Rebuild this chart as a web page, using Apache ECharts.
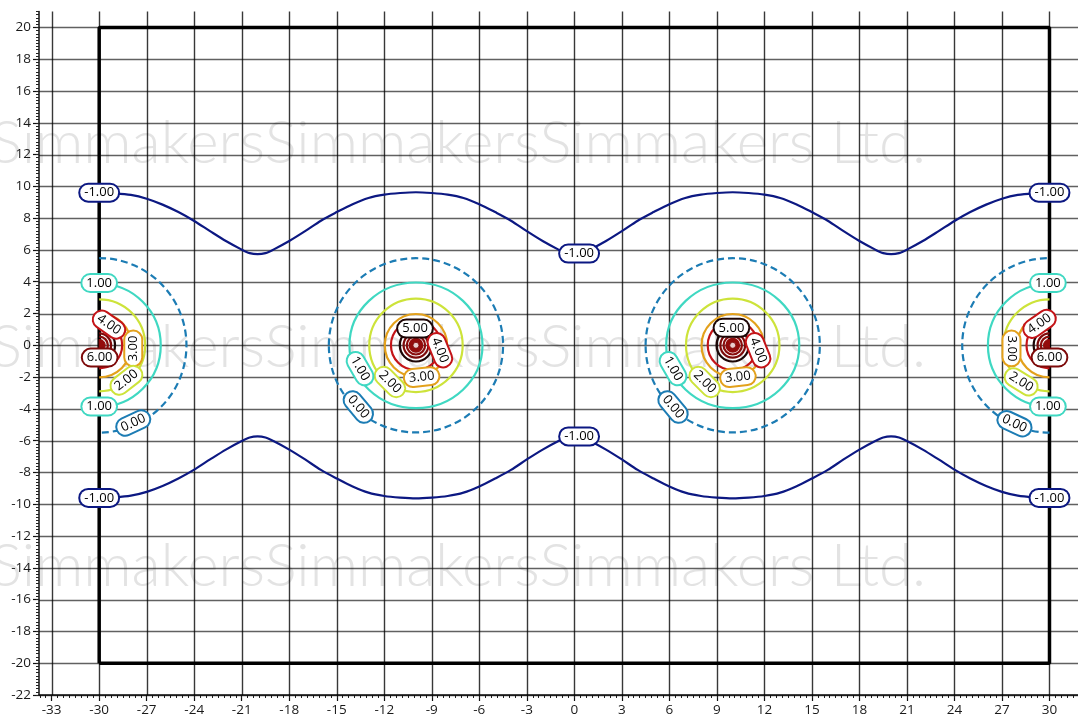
<!DOCTYPE html>
<html>
<head>
<meta charset="utf-8">
<script src="https://cdn.jsdelivr.net/npm/echarts@6/dist/echarts.min.js"></script>
<style>
html,body{margin:0;padding:0;background:#fff;}
#chart{width:1078px;height:722px;}
</style>
</head>
<body>
<div id="chart"></div>
<script>
// ---------- data ----------
const xTickValues = [-33,-30,-27,-24,-21,-18,-15,-12,-9,-6,-3,0,3,6,9,12,15,18,21,24,27,30];
const yTickValues = [-22,-20,-18,-16,-14,-12,-10,-8,-6,-4,-2,0,2,4,6,8,10,12,14,16,18,20];

// domain box
const boxX = [-30, 30, 30, -30, -30];
const boxY = [-20, -20, 20, 20, -20];

// contour -1.00 (upper and lower branches)
const m1X = [-30,-29,-28,-27,-26,-25,-24,-23,-22,-21,-20.5,-20,-19.5,-19,-18,-17,-16,-15,-14,-13,-12,-11,-10,-9,-8,-7,-6,-5,-4,-3,-2,-1,-0.5,0,0.5,1,2,3,4,5,6,7,8,9,10,11,12,13,14,15,16,17,18,19,19.5,20,20.5,21,22,23,24,25,26,27,28,29,30];
const m1Upper = [9.6,9.56,9.46,9.22,8.85,8.38,7.82,7.18,6.56,6.02,5.8,5.73,5.8,6.02,6.56,7.18,7.84,8.38,8.88,9.27,9.48,9.58,9.63,9.58,9.48,9.27,8.88,8.38,7.84,7.18,6.56,6.02,5.8,5.73,5.8,6.02,6.56,7.18,7.84,8.38,8.88,9.27,9.48,9.58,9.63,9.58,9.48,9.27,8.88,8.38,7.84,7.18,6.56,6.02,5.8,5.73,5.8,6.02,6.56,7.18,7.82,8.38,8.85,9.22,9.46,9.56,9.6];
const m1Lower = [-9.6,-9.56,-9.46,-9.22,-8.85,-8.38,-7.82,-7.18,-6.56,-6.02,-5.8,-5.73,-5.8,-6.02,-6.56,-7.18,-7.84,-8.38,-8.88,-9.27,-9.48,-9.58,-9.63,-9.58,-9.48,-9.27,-8.88,-8.38,-7.84,-7.18,-6.56,-6.02,-5.8,-5.73,-5.8,-6.02,-6.56,-7.18,-7.84,-8.38,-8.88,-9.27,-9.48,-9.58,-9.63,-9.58,-9.48,-9.27,-8.88,-8.38,-7.84,-7.18,-6.56,-6.02,-5.8,-5.73,-5.8,-6.02,-6.56,-7.18,-7.82,-8.38,-8.85,-9.22,-9.46,-9.56,-9.6];

// closed contours around the sources
const sourceX = [-10, 10];          // interior sources (full rings)
const edgeSourceX = [-30, 30];      // sources on the box edge (half rings)
const ringLevels = [0, 1, 2, 3, 4, 5, 6, 7, 8];
const centerRx = [5.5, 4.2, 2.95, 1.97, 1.58, 1.02, 0.78, 0.58, 0.4];
const centerRy = [5.48, 3.95, 2.94, 1.97, 1.56, 1.02, 0.78, 0.58, 0.4];
const edgeR    = [5.5, 3.88, 2.9, 2.02, 1.45, 1.0, 0.75, 0.55, 0.38];

// contour labels
const labelX    = [-30, 30, 0.3, 0.3, -30, 30,
                   -30, -30, -29.38, -27.85, -29.97, -28.28, -27.85,
                   29.9, 29.9, 29.37, 27.6, 30.0, 28.21, 27.79,
                   -10.06, -8.49, -9.64, -11.64, -13.53, -13.64,
                   9.92, 11.6, 10.33, 8.23, 6.23, 6.23];
const labelY    = [9.6, 9.6, 5.77, -5.73, -9.6, -9.6,
                   3.92, -3.85, 1.3, -0.2, -0.77, -2.2, -4.89,
                   3.92, -3.85, 1.35, -0.2, -0.77, -2.3, -4.93,
                   1.05, -0.31, -2.0, -2.31, -1.47, -3.88,
                   1.1, -0.31, -2.0, -2.31, -1.47, -3.88];
const labelText = ['-1.00','-1.00','-1.00','-1.00','-1.00','-1.00',
                   '1.00','1.00','4.00','3.00','6.00','2.00','0.00',
                   '1.00','1.00','4.00','3.00','6.00','2.00','0.00',
                   '5.00','4.00','3.00','2.00','1.00','0.00',
                   '5.00','4.00','3.00','2.00','1.00','0.00'];
const labelRot  = [0,0,0,0,0,0,
                   0,0,-35,90,0,38,25,
                   0,0,35,-90,0,-32,-25,
                   0,-68,6,-45,-60,-50,
                   0,-68,6,-45,-60,-50];

const watermarkText = 'SimmakersSimmakersSimmakers Ltd.';

// ---------- styling helpers ----------
const levelColor = {
  '-1': '#0c1882', '0': '#1c7cb4', '1': '#3fd8c2', '2': '#cde33a',
  '3': '#e3a11c', '4': '#c41418', '5': '#1c0606', '6': '#7d0a0a',
  '7': '#8a0c0c', '8': '#930c0c'
};
const xMinor = [], yMinor = [];
for (let k = 0; k <= 175; k++) { const v = -33.75 + k * 0.375; if (v <= 31.8) xMinor.push(+v.toFixed(3)); }
for (let k = 0; k <= 215; k++) { const v = -22 + k * 0.2; if (v <= 21.001) yMinor.push(+v.toFixed(2)); }

const X_MIN = -33.8, X_MAX = 31.8, Y_MIN = -22, Y_MAX = 21;
const FONT = "'Open Sans', 'DejaVu Sans', sans-serif";
const WM_FONT = "300 60px Lato, 'Open Sans', sans-serif";

const gridData = xTickValues.map(v => [v, 0, 0]).concat(yTickValues.map(v => [0, v, 1]));

const ringData = [];
sourceX.forEach(s => ringLevels.forEach((lv, i) => ringData.push([s, 0, centerRx[i], centerRy[i], lv, 0])));
edgeSourceX.forEach(s => ringLevels.forEach((lv, i) => ringData.push([s, 0, edgeR[i], edgeR[i], lv, s < 0 ? 1 : -1])));

const chart = echarts.init(document.getElementById('chart'), null, {renderer: 'canvas'});

const baseX = {type: 'value', min: X_MIN, max: X_MAX, position: 'bottom', splitLine: {show: false}};
const baseY = {type: 'value', min: Y_MIN, max: Y_MAX, position: 'left', splitLine: {show: false}};
const tickRich = {t: {fontSize: 13.5, fontFamily: FONT, color: '#1a1a1a', lineHeight: 16}};
const tickFormatter = function (v) { return '{t|' + v + '}'; };

chart.setOption({
  animation: false,
  backgroundColor: '#fff',
  textStyle: {fontFamily: FONT},
  grid: {left: 39, right: 0, top: 11.5, bottom: 27, containLabel: false},
  graphic: [
    {type: 'text', left: -10, top: 114, z: 0, silent: true,
     style: {text: watermarkText, font: WM_FONT, fill: '#e3e3e3'}},
    {type: 'text', left: -10, top: 318, z: 0, silent: true,
     style: {text: watermarkText, font: WM_FONT, fill: '#e3e3e3'}},
    {type: 'text', left: -10, top: 537, z: 0, silent: true,
     style: {text: watermarkText, font: WM_FONT, fill: '#e3e3e3'}}
  ],
  xAxis: [
    Object.assign({}, baseX, {
      axisLine: {show: true, onZero: false, lineStyle: {color: '#111', width: 1.5}},
      axisTick: {show: true, customValues: xTickValues, length: 6, lineStyle: {color: '#111', width: 1.2}},
      axisLabel: {show: true, customValues: xTickValues, margin: 7, formatter: tickFormatter, rich: tickRich}
    }),
    Object.assign({}, baseX, {
      axisLine: {show: false, onZero: false},
      axisTick: {show: true, customValues: xMinor, length: 3, lineStyle: {color: '#222', width: 1}},
      axisLabel: {show: false}
    })
  ],
  yAxis: [
    Object.assign({}, baseY, {
      axisLine: {show: true, onZero: false, lineStyle: {color: '#111', width: 1.5}},
      axisTick: {show: true, customValues: yTickValues, length: 6, lineStyle: {color: '#111', width: 1.2}},
      axisLabel: {show: true, customValues: yTickValues, margin: 8, formatter: tickFormatter, rich: tickRich}
    }),
    Object.assign({}, baseY, {
      axisLine: {show: false, onZero: false},
      axisTick: {show: true, customValues: yMinor, length: 3, lineStyle: {color: '#222', width: 1}},
      axisLabel: {show: false}
    })
  ],
  series: [
    { // grid lines
      type: 'custom', silent: true, z: 1, xAxisIndex: 0, yAxisIndex: 0,
      encode: {x: 0, y: 1},
      data: gridData,
      renderItem: function (params, api) {
        const cs = params.coordSys;
        if (api.value(2) === 0) {
          const px = Math.round(api.coord([api.value(0), 0])[0]) + 0.5;
          return {type: 'line', shape: {x1: px, y1: cs.y, x2: px, y2: cs.y + cs.height},
                  style: {stroke: 'rgba(0,0,0,0.78)', lineWidth: 1.4}};
        }
        const py = Math.round(api.coord([0, api.value(1)])[1]) + 0.5;
        return {type: 'line', shape: {x1: cs.x, y1: py, x2: cs.x + cs.width, y2: py},
                style: {stroke: 'rgba(0,0,0,0.62)', lineWidth: 1.6}};
      }
    },
    { // domain box
      type: 'line', z: 3, silent: true, symbol: 'none',
      data: boxX.map((x, i) => [x, boxY[i]]),
      lineStyle: {color: '#000', width: 3.5}
    },
    {
      type: 'line', z: 4, silent: true, symbol: 'none', smooth: 0.3,
      data: m1X.map((x, i) => [x, m1Upper[i]]),
      lineStyle: {color: levelColor['-1'], width: 2.2}
    },
    {
      type: 'line', z: 4, silent: true, symbol: 'none', smooth: 0.3,
      data: m1X.map((x, i) => [x, m1Lower[i]]),
      lineStyle: {color: levelColor['-1'], width: 2.2}
    },
    { // closed contours
      type: 'custom', z: 5, silent: true,
      encode: {x: 0, y: 1},
      data: ringData,
      renderItem: function (params, api) {
        const c = api.coord([api.value(0), api.value(1)]);
        const sz = api.size([api.value(2), api.value(3)]);
        const lv = api.value(4);
        const side = api.value(5);
        const col = levelColor[String(lv)];
        const filled = lv === 8;
        const style = {stroke: col, lineWidth: 2.2, fill: filled ? col : null};
        if (lv === 0) style.lineDash = [7, 4];
        if (side === 0) {
          return {type: 'ellipse', shape: {cx: c[0], cy: c[1], rx: sz[0], ry: sz[1]}, style: style};
        }
        const r = (sz[0] + sz[1]) / 2;
        const a0 = side > 0 ? -Math.PI / 2 : Math.PI / 2;
        const a1 = side > 0 ? Math.PI / 2 : Math.PI * 1.5;
        if (filled) {
          return {type: 'sector', shape: {cx: c[0], cy: c[1], r0: 0, r: r, startAngle: a0, endAngle: a1, clockwise: true},
                  style: {fill: col, stroke: col, lineWidth: 1}};
        }
        return {type: 'arc', shape: {cx: c[0], cy: c[1], r: r, startAngle: a0, endAngle: a1, clockwise: true},
                style: style};
      }
    },
    { // source points
      type: 'scatter', z: 6, silent: true, symbol: 'circle', symbolSize: 6,
      data: sourceX.map(x => [x, 0]),
      itemStyle: {color: '#fff', borderColor: '#7a0000', borderWidth: 1}
    },
    { // contour labels
      type: 'custom', z: 8, silent: true,
      encode: {x: 0, y: 1},
      data: labelX.map((x, i) => [x, labelY[i]]),
      renderItem: function (params, api) {
        const i = params.dataIndex;
        const c = api.coord([api.value(0), api.value(1)]);
        const txt = labelText[i];
        const lv = String(Math.round(parseFloat(txt)));
        return {
          type: 'text', x: c[0], y: c[1], rotation: labelRot[i] * Math.PI / 180,
          style: {
            text: txt, x: 0, y: 0, align: 'center', verticalAlign: 'middle',
            font: "13px " + FONT, fill: '#000',
            backgroundColor: '#fff', borderColor: levelColor[lv], borderWidth: 2,
            borderRadius: 9, padding: [2, 4, 1, 4]
          }
        };
      }
    }
  ]
});
</script>
</body>
</html>
